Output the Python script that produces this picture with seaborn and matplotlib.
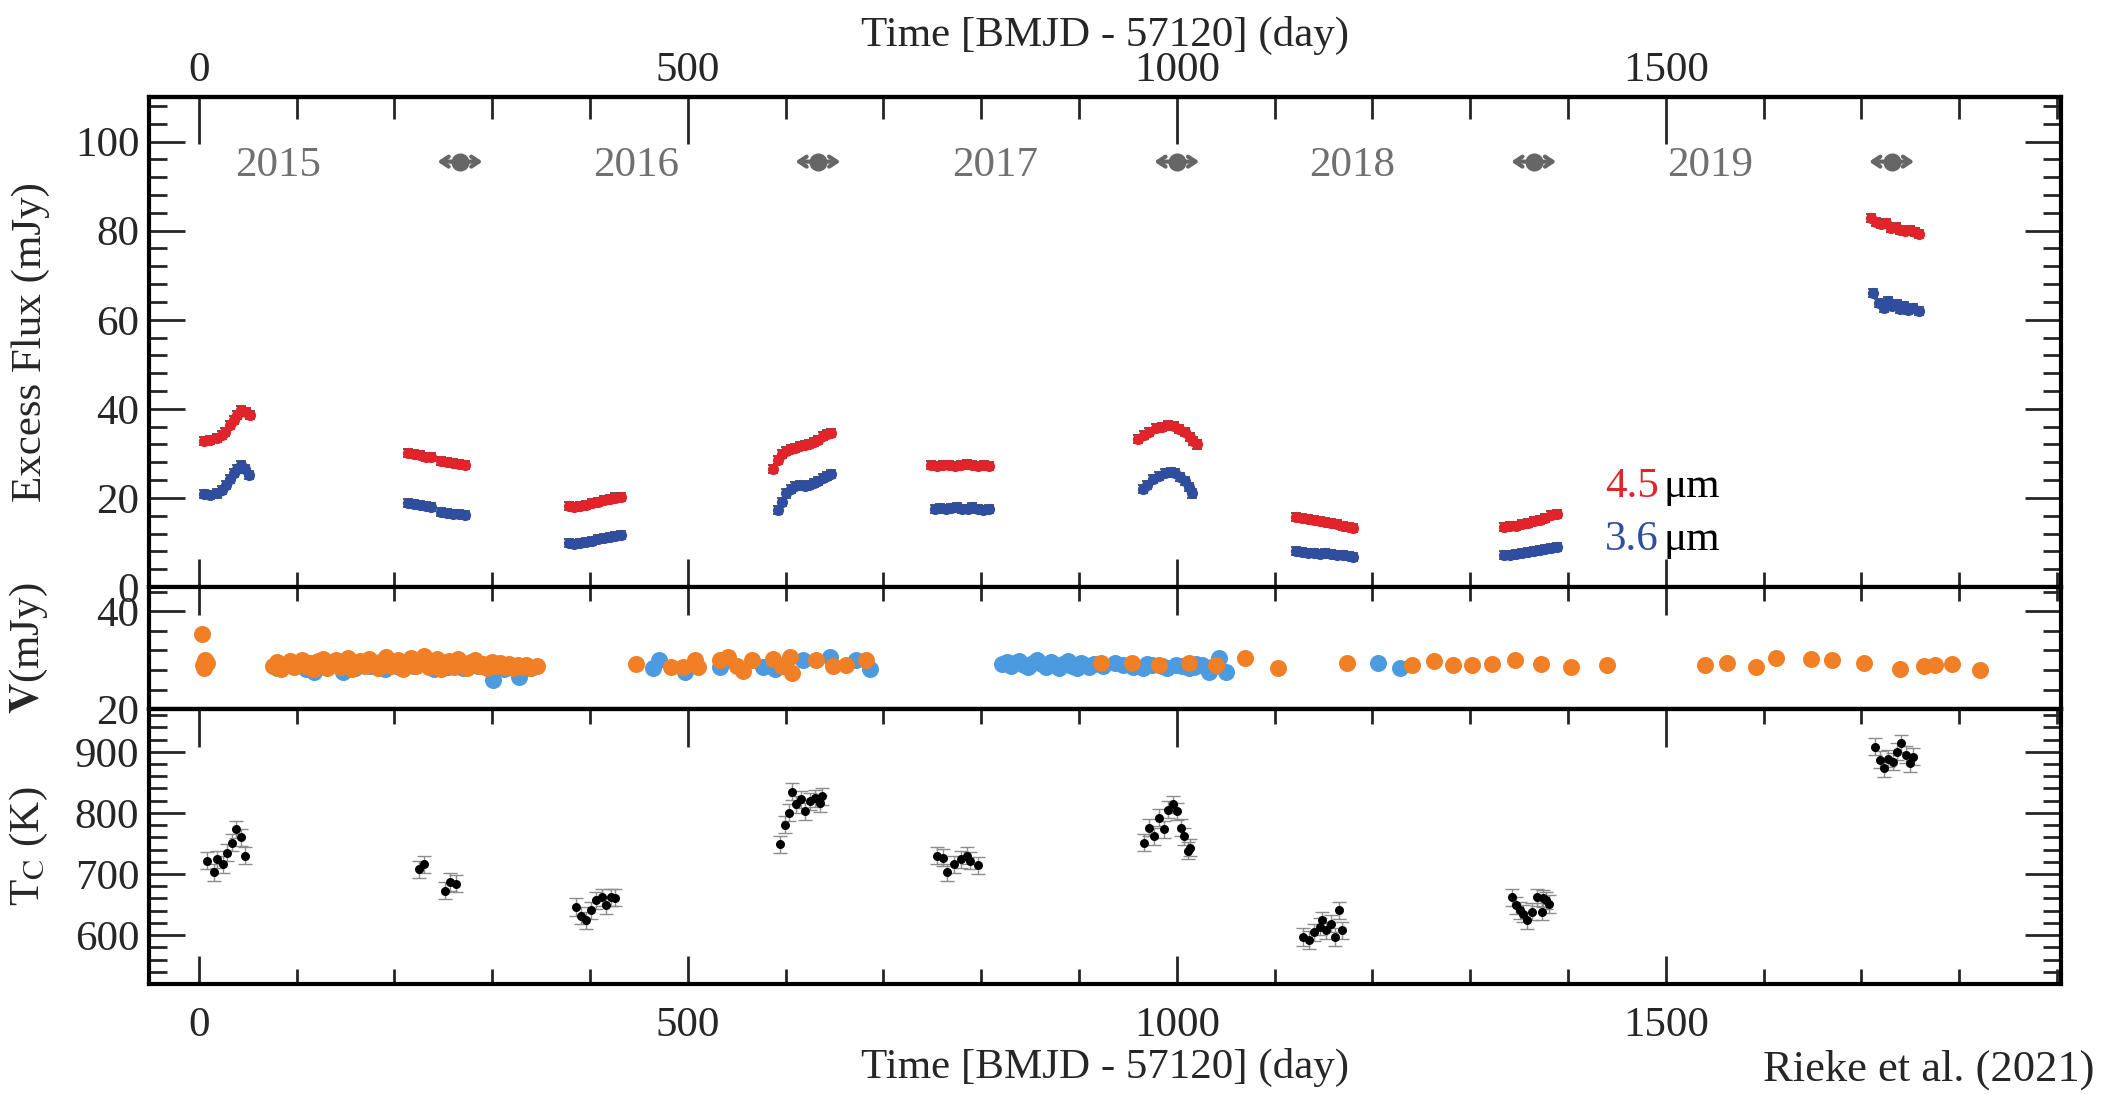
import matplotlib
matplotlib.use("Agg")
import matplotlib.pyplot as plt
from matplotlib.ticker import MultipleLocator, FixedLocator
import seaborn as sns

# ---- data ----
years = ["2015", "2016", "2017", "2018", "2019"]
year_day = [81, 447, 814, 1179, 1545]
conj_day = [267, 633, 1000, 1365, 1731]
x_major = [0, 500, 1000, 1500]

# 4.5 micron excess flux (mJy)
ch2_day = [5, 11, 18, 24, 27, 32, 36, 39, 43, 48, 52,
           214, 220, 226, 232, 237, 248, 254, 260, 266, 272,
           378, 384, 390, 396, 402, 408, 414, 420, 426, 432,
           587, 592, 596, 600, 605, 610, 615, 620, 624, 629, 633, 638, 642, 646,
           749, 755, 761, 767, 773, 779, 785, 791, 797, 803, 808,
           960, 966, 972, 979, 985, 991, 997, 1002, 1008, 1013, 1017, 1021,
           1122, 1128, 1134, 1140, 1146, 1152, 1158, 1164, 1170, 1176, 1180,
           1335, 1341, 1347, 1353, 1359, 1365, 1371, 1377, 1383, 1389,
           1710, 1715, 1720, 1725, 1730, 1735, 1740, 1745, 1750, 1755, 1759]
ch2_flux = [32.8, 33.1, 33.5, 34.2, 34.8, 36.3, 37.4, 38.6, 39.7, 39.2, 38.7,
            30.1, 29.8, 29.6, 29.3, 29.1, 28.3, 28.1, 27.8, 27.6, 27.3,
            18.2, 18.0, 18.3, 18.5, 18.9, 19.2, 19.5, 19.8, 20.1, 20.3,
            26.5, 28.5, 29.8, 30.6, 31.0, 31.3, 31.6, 31.8, 32.1, 32.6, 33.0, 33.8, 34.3, 34.6,
            27.3, 27.2, 27.4, 27.3, 27.1, 27.4, 27.6, 27.3, 27.2, 27.3, 27.1,
            33.3, 34.2, 34.9, 35.6, 36.0, 36.3, 36.1, 35.5, 34.8, 33.7, 32.8, 32.0,
            15.7, 15.4, 15.2, 15.0, 14.8, 14.6, 14.3, 14.1, 13.8, 13.5, 13.2,
            13.5, 13.7, 13.8, 14.1, 14.4, 14.8, 15.1, 15.6, 16.1, 16.5,
            82.8, 82.0, 81.4, 81.8, 80.6, 80.9, 80.2, 79.9, 80.1, 79.6, 79.2]

# 3.6 micron excess flux (mJy)
ch1_day = [5, 11, 18, 24, 28, 32, 36, 39, 43, 47, 51,
           214, 220, 226, 232, 237, 248, 254, 260, 266, 272,
           378, 384, 390, 396, 402, 408, 414, 420, 426, 432,
           592, 596, 600, 605, 610, 615, 620, 624, 629, 633, 638, 642, 646,
           753, 758, 764, 769, 775, 780, 786, 791, 797, 802, 808,
           965, 970, 976, 982, 988, 994, 998, 1003, 1008, 1012, 1016,
           1122, 1128, 1134, 1140, 1146, 1152, 1158, 1164, 1170, 1176, 1180,
           1335, 1341, 1347, 1353, 1359, 1365, 1371, 1377, 1383, 1389,
           1712, 1718, 1723, 1727, 1731, 1736, 1740, 1744, 1748, 1753, 1759]
ch1_flux = [20.8, 20.7, 21.0, 21.8, 22.9, 24.2, 25.5, 26.6, 27.3, 26.4, 25.2,
            18.9, 18.7, 18.5, 18.2, 18.0, 16.9, 16.7, 16.5, 16.3, 16.1,
            9.8, 9.6, 9.8, 10.1, 10.4, 10.7, 10.9, 11.2, 11.4, 11.7,
            17.2, 19.0, 21.0, 22.0, 22.6, 22.8, 22.7, 22.9, 23.3, 23.9, 24.5, 25.0, 25.4,
            17.6, 17.8, 17.5, 17.7, 17.9, 17.5, 17.6, 18.0, 17.6, 17.4, 17.5,
            22.1, 23.0, 24.3, 25.0, 25.5, 25.8, 25.6, 24.8, 23.8, 22.4, 21.0,
            8.0, 7.8, 7.7, 7.6, 7.5, 7.6, 7.4, 7.3, 7.2, 7.0, 6.8,
            7.1, 7.3, 7.4, 7.6, 7.9, 8.1, 8.3, 8.6, 8.8, 9.0,
            66.0, 63.8, 62.6, 64.2, 63.0, 63.6, 62.4, 63.1, 62.2, 62.6, 61.9]
flux_err = 0.9

# V band flux (mJy): orange and blue sets
vo_day = [3, 4, 6, 5, 8,
          76, 80, 84, 88, 93, 97, 101, 105, 110, 114, 118, 122, 127, 131, 135, 140,
          144, 148, 152, 157, 161, 165, 170, 174, 178, 183, 187, 191, 196, 200, 204,
          209, 213, 217, 222, 226, 230, 235, 239, 243, 248, 252, 256, 261, 265, 269,
          274, 278, 282, 287, 291, 295, 300, 304, 308, 313, 317, 321, 326, 330, 335, 339, 346,
          447, 483, 495, 507, 510, 533, 541, 550, 556, 566, 587, 596, 604, 606, 631, 648, 662, 682,
          922, 954, 982, 1012, 1040, 1070, 1104,
          1174, 1241, 1263, 1282, 1302, 1322, 1346, 1372, 1403, 1440,
          1540, 1563, 1592, 1613, 1649, 1670, 1703, 1740, 1764, 1775, 1793, 1821]
vo_flux = [35.4, 29.0, 30.0, 28.4, 29.5,
           28.9, 29.6, 28.2, 29.1, 29.8, 28.6, 29.3, 30.1, 28.8, 29.5, 28.1, 29.9, 30.3, 28.5, 29.2, 30.0,
           28.7, 29.6, 30.4, 28.3, 29.1, 29.8, 28.9, 30.2, 29.4, 28.4, 29.9, 30.6, 28.8, 29.5, 30.1,
           28.2, 29.3, 30.5, 28.9, 29.7, 30.8, 28.6, 29.4, 30.2, 28.3, 29.0, 29.8, 28.7, 30.3, 29.1,
           28.5, 29.6, 30.0, 28.8, 29.3, 28.4, 29.7, 28.9, 29.5, 28.6, 29.2, 28.4, 29.0, 28.7, 29.1, 28.5, 28.9,
           29.3, 28.6, 28.6, 30.0, 28.6, 30.0, 30.7, 28.8, 27.8, 30.0, 30.3, 28.8, 30.7, 27.3, 30.0, 28.8, 29.1, 30.0,
           29.4, 29.4, 29.1, 29.4, 29.1, 30.4, 28.4,
           29.4, 29.0, 29.9, 29.0, 29.0, 29.3, 30.0, 29.3, 28.6, 29.0,
           29.0, 29.4, 28.6, 30.5, 30.3, 30.0, 29.4, 28.1, 28.8, 29.0, 29.2, 28.0]
vb_day = [80, 95, 110, 118, 130, 147, 160, 175, 190, 205, 220, 240, 255, 270, 285, 301, 312, 327, 340,
          464, 470, 497, 533, 577, 589, 618, 645, 672, 686,
          821, 826, 830, 835, 839, 844, 848, 853, 857, 862, 866, 871, 875, 880, 884, 889, 893, 898,
          902, 906, 910, 915, 925, 937, 945, 955, 965, 970, 975, 985, 990, 999, 1005, 1012, 1018,
          1020, 1026, 1033, 1038, 1043, 1050,
          1206, 1228]
vb_flux = [28.5, 28.8, 28.3, 27.6, 28.9, 27.6, 28.4, 28.8, 28.2, 28.6, 28.9, 28.3, 28.7, 28.4, 28.8, 25.9, 28.2, 26.6, 28.5,
           28.4, 30.0, 27.6, 28.6, 28.6, 28.2, 30.0, 30.7, 30.0, 28.2,
           29.2, 29.6, 28.8, 29.4, 29.9, 29.0, 28.6, 29.5, 30.1, 29.2, 28.7, 29.6, 29.0, 28.5, 29.3, 29.8, 28.9, 28.4,
           29.5, 29.1, 28.6, 29.3, 28.9, 29.4, 29.0, 28.6, 28.4, 29.3, 29.0, 28.8, 28.5, 29.1, 28.9, 28.4, 28.7,
           29.3, 29.1, 27.6, 28.8, 30.4, 27.6,
           29.4, 28.4]

# dust temperature T_C (K)
tc_day = [8, 15, 18, 25, 29, 34, 38, 43, 47,
          225, 230, 252, 257, 263,
          386, 391, 396, 401, 406, 412, 416, 421, 425,
          594, 599, 603, 606, 611, 616, 620, 625, 630, 635, 637,
          755, 761, 765, 772, 779, 785, 789, 797,
          966, 972, 977, 982, 987, 991, 996, 1000, 1004, 1007, 1011, 1014,
          1129, 1135, 1140, 1146, 1149, 1153, 1158, 1162, 1166, 1169,
          1343, 1347, 1351, 1354, 1358, 1363, 1368, 1374, 1378, 1381, 1373,
          1714, 1719, 1723, 1727, 1732, 1737, 1741, 1746, 1750, 1753]
tc_temp = [722, 703, 724, 716, 735, 751, 773, 760, 730,
           708, 716, 673, 687, 684,
           646, 632, 624, 641, 657, 662, 649, 662, 661,
           749, 781, 800, 835, 814, 822, 803, 819, 824, 816, 827,
           730, 727, 703, 716, 724, 730, 722, 714,
           751, 776, 762, 792, 773, 805, 814, 803, 776, 762, 738, 743,
           597, 592, 605, 614, 624, 608, 619, 597, 641, 608,
           662, 649, 641, 635, 624, 638, 662, 660, 657, 651, 638,
           908, 887, 873, 889, 884, 900, 914, 895, 881, 892]
tc_err = 14

RED = "#e3232a"
BLUE = "#2f4e9f"
ORANGE = "#f07f26"
LBLUE = "#4c9ae0"
GREY = "#666666"

sns.set_theme(style="ticks")
plt.rcParams["font.family"] = ["Liberation Serif", "DejaVu Serif"]
plt.rcParams["mathtext.fontset"] = "stix"
plt.rcParams["axes.linewidth"] = 3
plt.rcParams["xtick.major.width"] = 2
plt.rcParams["xtick.minor.width"] = 2
plt.rcParams["ytick.major.width"] = 2
plt.rcParams["ytick.minor.width"] = 2

FS = 31

fig = plt.figure(figsize=(21.05, 10.94), dpi=100)
x0, w = 0.0708, 0.9082
ax1 = fig.add_axes([x0, 0.4634, w, 0.4479])
ax2 = fig.add_axes([x0, 0.3519, w, 0.1115])
ax3 = fig.add_axes([x0, 0.1005, w, 0.2514])

for ax in (ax1, ax2, ax3):
    ax.set_xlim(-51, 1904)
    ax.xaxis.set_major_locator(FixedLocator(x_major))
    ax.xaxis.set_minor_locator(MultipleLocator(100))
    ax.tick_params(axis="y", which="both", direction="in", left=True, right=True,
                   labelsize=FS, pad=7)
    ax.tick_params(axis="y", which="major", length=26)
    ax.tick_params(axis="y", which="minor", length=13)
    for sp in ax.spines.values():
        sp.set_visible(True)
        sp.set_color("black")

# ---- top panel: excess flux ----
ax1.errorbar(ch2_day, ch2_flux, yerr=flux_err, fmt="none", ecolor="#4a4a4a",
             elinewidth=1.3, capsize=3.5, capthick=1.3, zorder=2)
ax1.errorbar(ch1_day, ch1_flux, yerr=flux_err, fmt="none", ecolor="#4a4a4a",
             elinewidth=1.3, capsize=3.5, capthick=1.3, zorder=2)
sns.scatterplot(x=ch2_day, y=ch2_flux, ax=ax1, color=RED, s=65, linewidth=0, zorder=3)
sns.scatterplot(x=ch1_day, y=ch1_flux, ax=ax1, color=BLUE, s=65, linewidth=0, zorder=3)
ax1.set_ylim(0, 110)
ax1.yaxis.set_major_locator(MultipleLocator(20))
ax1.yaxis.set_minor_locator(MultipleLocator(4))
ax1.tick_params(axis="x", which="both", direction="in", bottom=True, top=False,
                labelbottom=False)
ax1.tick_params(axis="x", which="major", length=20)
ax1.tick_params(axis="x", which="minor", length=11)
ax1.set_ylabel("Excess Flux (mJy)", fontsize=FS)

for yr, d in zip(years, year_day):
    ax1.text(d, 94.5, yr, fontsize=FS, color="#707070", ha="center", va="center")
for d in conj_day:
    ax1.annotate("", xy=(d - 23, 95.5), xytext=(d + 23, 95.5),
                 arrowprops=dict(arrowstyle="<->,head_length=0.45,head_width=0.3",
                                 color=GREY, lw=3, shrinkA=0, shrinkB=0))
sns.scatterplot(x=conj_day, y=[95.5] * len(conj_day), ax=ax1, color=GREY,
                s=170, linewidth=0, zorder=4)

ax1.text(1493, 22.6, "4.5", color=RED, fontsize=FS, ha="right", va="center")
ax1.text(1498, 22.6, "μm", color="black", fontsize=FS, ha="left", va="center")
ax1.text(1493, 10.6, "3.6", color=BLUE, fontsize=FS, ha="right", va="center")
ax1.text(1498, 10.6, "μm", color="black", fontsize=FS, ha="left", va="center")

top = ax1.secondary_xaxis("top")
top.xaxis.set_major_locator(FixedLocator(x_major))
top.xaxis.set_minor_locator(MultipleLocator(100))
top.tick_params(axis="x", which="both", direction="in", labelsize=FS, pad=5)
top.tick_params(axis="x", which="major", length=34)
top.tick_params(axis="x", which="minor", length=16)
top.set_xlabel("Time [BMJD - 57120] (day)", fontsize=FS, labelpad=4)

# ---- middle panel: V band ----
sns.scatterplot(x=vb_day, y=vb_flux, ax=ax2, color=LBLUE, s=150, linewidth=0, zorder=2)
sns.scatterplot(x=vo_day, y=vo_flux, ax=ax2, color=ORANGE, s=150, linewidth=0, zorder=3)
ax2.set_ylim(20, 45)
ax2.yaxis.set_major_locator(FixedLocator([20, 40]))
ax2.yaxis.set_minor_locator(MultipleLocator(4))
ax2.tick_params(axis="x", which="both", direction="in", bottom=False, top=True,
                labelbottom=False)
ax2.tick_params(axis="x", which="major", length=20)
ax2.tick_params(axis="x", which="minor", length=10)
ax2.set_ylabel(r"$\mathbf{V}$(mJy)", fontsize=FS)

# ---- bottom panel: T_C ----
ax3.errorbar(tc_day, tc_temp, yerr=tc_err, fmt="none", ecolor="#8c8c8c",
             elinewidth=1.0, capsize=5, capthick=1.0, zorder=2)
sns.scatterplot(x=tc_day, y=tc_temp, ax=ax3, color="black", s=42, linewidth=0, zorder=3)
ax3.set_ylim(520, 970)
ax3.yaxis.set_major_locator(FixedLocator([600, 700, 800, 900]))
ax3.yaxis.set_minor_locator(MultipleLocator(20))
ax3.tick_params(axis="x", which="both", direction="in", bottom=True, top=False,
                labelsize=FS, pad=16)
ax3.tick_params(axis="x", which="major", length=20)
ax3.tick_params(axis="x", which="minor", length=11)
ax3.set_xlabel("Time [BMJD - 57120] (day)", fontsize=FS, labelpad=2)
ax3.set_ylabel(r"T$_{\rm C}$ (K)", fontsize=FS)

top3 = ax3.secondary_xaxis("top")
top3.xaxis.set_major_locator(FixedLocator(x_major))
top3.xaxis.set_minor_locator(MultipleLocator(100))
top3.tick_params(axis="x", which="both", direction="in", labeltop=False)
top3.tick_params(axis="x", which="major", length=27)
top3.tick_params(axis="x", which="minor", length=11)

for ax in (ax1, ax2, ax3):
    ax.yaxis.set_label_coords(-0.052, 0.5)

fig.text(0.995, 0.022, "Rieke et al. (2021)", fontsize=32, ha="right", va="center")

fig.savefig("out.png", dpi=100)
